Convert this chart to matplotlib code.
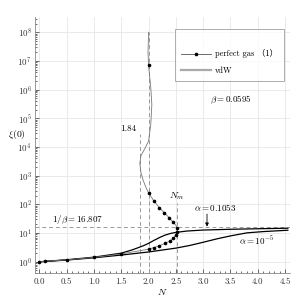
import matplotlib
matplotlib.use("Agg")
import matplotlib.pyplot as plt
from matplotlib.lines import Line2D
from matplotlib.ticker import LogLocator, MultipleLocator, NullFormatter, FormatStrFormatter

plt.rcParams['mathtext.fontset'] = 'cm'
plt.rcParams['font.family'] = ['cmr10', 'Noto Sans CJK SC', 'DejaVu Sans']
plt.rcParams['axes.unicode_minus'] = False
plt.rcParams['axes.formatter.use_mathtext'] = True

# perfect gas curve (N, xi(0))
pg_N = [0.0, 0.1, 0.5, 1.0, 1.5, 2.0, 2.1, 2.2, 2.3, 2.4, 2.45, 2.5, 2.52, 2.52, 2.5, 2.44,
        2.38, 2.29, 2.2, 2.1, 2.0, 1.95, 1.9, 1.86, 1.84, 1.86, 1.92, 2.0, 2.04, 2.06, 2.04,
        2.0, 1.99, 2.0]
pg_xi = [1.0, 1.04, 1.17, 1.42, 1.88, 2.75, 3.15, 3.65, 4.4, 5.4, 6.6, 8.5, 11.0, 14.5, 19.0, 25.0,
         34.0, 51.0, 76.0, 130.0, 253.0, 400.0, 700.0, 1300.0, 2700.0, 5000.0, 8000.0, 1.6e4,
         6e4, 3e5, 1.2e6, 7e6, 2e7, 1e8]
pg_dot_N = [0.0, 0.1, 0.5, 1.0, 1.5, 2.0, 2.1, 2.2, 2.3, 2.4, 2.45, 2.5, 2.52, 2.52, 2.44, 2.38,
            2.29, 2.2, 2.1, 2.0, 2.0]
pg_dot_xi = [1.0, 1.04, 1.17, 1.42, 1.88, 2.75, 3.15, 3.65, 4.4, 5.4, 6.6, 8.5, 11.0, 14.5, 25.0, 34.0,
             51.0, 76.0, 130.0, 253.0, 7e6]

# vdW curves
vdw1_N = [0.0, 0.5, 1.0, 1.5, 1.7, 1.9, 2.0, 2.1, 2.2, 2.3, 2.4, 2.5, 2.7, 3.0, 3.5, 4.0, 4.55]
vdw1_xi = [1.0, 1.18, 1.45, 2.0, 2.6, 3.6, 4.4, 5.6, 7.0, 8.5, 9.7, 10.6, 11.8, 12.8, 13.6, 14.2, 14.8]
vdw2_N = [0.0, 0.5, 1.0, 1.5, 2.0, 2.5, 2.75, 3.0, 3.25, 3.5, 3.8, 4.1, 4.55]
vdw2_xi = [1.0, 1.15, 1.38, 1.72, 2.2, 3.0, 3.7, 4.8, 6.3, 8.0, 10.2, 11.3, 12.6]

inv_beta = 16.807
N_min = 1.84
N_lim = 2.0
N_m = 2.52

fig = plt.figure(figsize=(2.99, 2.99), dpi=100)
ax = fig.add_axes([0.116, 0.086, 0.854, 0.857])
ax.set_yscale('log')
ax.set_xlim(-0.085, 4.59)
ax.set_ylim(10 ** -0.4, 10 ** 8.53)

ax.grid(True, which='major', color='#e6e6e6', lw=0.6)
ax.set_axisbelow(True)

dash = dict(color='#999999', lw=0.7, ls=(0, (4, 3)))
ax.plot([-0.085, 4.59], [inv_beta, inv_beta], **dash)
ax.plot([N_min, N_min], [10 ** -0.4, 10 ** 4.45], **dash)
ax.plot([N_lim, N_lim], [10 ** -0.4, 1e8], **dash)
ax.plot([N_m, N_m], [10 ** -0.4, 10 ** 2.05], **dash)

ax.plot(vdw1_N, vdw1_xi, color='black', lw=0.9)
ax.plot(vdw2_N, vdw2_xi, color='black', lw=0.9)
ax.plot(pg_N, pg_xi, color='#777777', lw=0.6)
ax.plot(pg_dot_N, pg_dot_xi, ls='none', marker='o', ms=1.6, color='black')

fs = 6.5
ax.text(1.62, 10 ** 4.65, '1.84', fontsize=fs, ha='center', va='center')
ax.text(2.52, 10 ** 2.27, r'$N_m$', fontsize=7, ha='center', va='center')
ax.text(0.70, 10 ** 1.47, r'$1/\beta = 16.807$', fontsize=fs, ha='center', va='center')
ax.text(3.22, 10 ** 1.9, r'$\alpha = 0.1053$', fontsize=fs, ha='center', va='center')
ax.annotate('', xy=(3.07, 10 ** 1.13), xytext=(3.07, 10 ** 1.76),
            arrowprops=dict(arrowstyle='-|>', color='black', lw=0.6, mutation_scale=5))
ax.text(3.97, 10 ** 0.73, r'$\alpha = 10^{-5}$', fontsize=fs, ha='center', va='center')
ax.text(3.51, 10 ** 5.64, r'$\beta = 0.0595$', fontsize=fs, ha='center', va='center')

ax.set_xlabel(r'$N$', fontsize=7, labelpad=0)
ax.xaxis.set_label_coords(0.5, -0.055)
ax.set_ylabel(r'$\xi(0)$', fontsize=7, rotation=0, labelpad=0)
ax.yaxis.set_label_coords(-0.07, 0.515)

ax.xaxis.set_major_locator(MultipleLocator(0.5))
ax.xaxis.set_minor_locator(MultipleLocator(0.1))
ax.xaxis.set_major_formatter(FormatStrFormatter('%.1f'))
ax.yaxis.set_major_locator(LogLocator(base=10, numticks=20))
ax.yaxis.set_minor_locator(LogLocator(base=10, subs=range(2, 10), numticks=20))
ax.yaxis.set_minor_formatter(NullFormatter())
ax.xaxis.get_offset_text().set_visible(False)
ax.yaxis.get_offset_text().set_visible(False)
ax.tick_params(which='both', direction='in', labelsize=fs, width=0.5, colors='#333333')
ax.tick_params(which='major', length=3)
ax.tick_params(which='minor', length=1.5)
ax.tick_params(axis='x', pad=3)
ax.tick_params(axis='y', pad=2)
for side in ['top', 'right']:
    ax.spines[side].set_visible(False)
for side in ['left', 'bottom']:
    ax.spines[side].set_color('#888888')
    ax.spines[side].set_linewidth(0.6)

handles = [Line2D([], [], color='#555555', lw=0.6, marker='o', ms=1.6, mfc='black', mec='black'),
           Line2D([], [], color='#aaaaaa', lw=1.6)]
leg = ax.legend(handles, ['perfect gas （1）', 'vdW'], loc='upper right',
                bbox_to_anchor=(0.977, 0.952), fontsize=6, frameon=True, fancybox=False,
                edgecolor='#888888', handlelength=3.6, handletextpad=0.5, borderpad=0.7,
                labelspacing=1.0, borderaxespad=0, title=' ', title_fontsize=4)
leg.get_frame().set_linewidth(0.6)

fig.savefig('out.png', dpi=100)
